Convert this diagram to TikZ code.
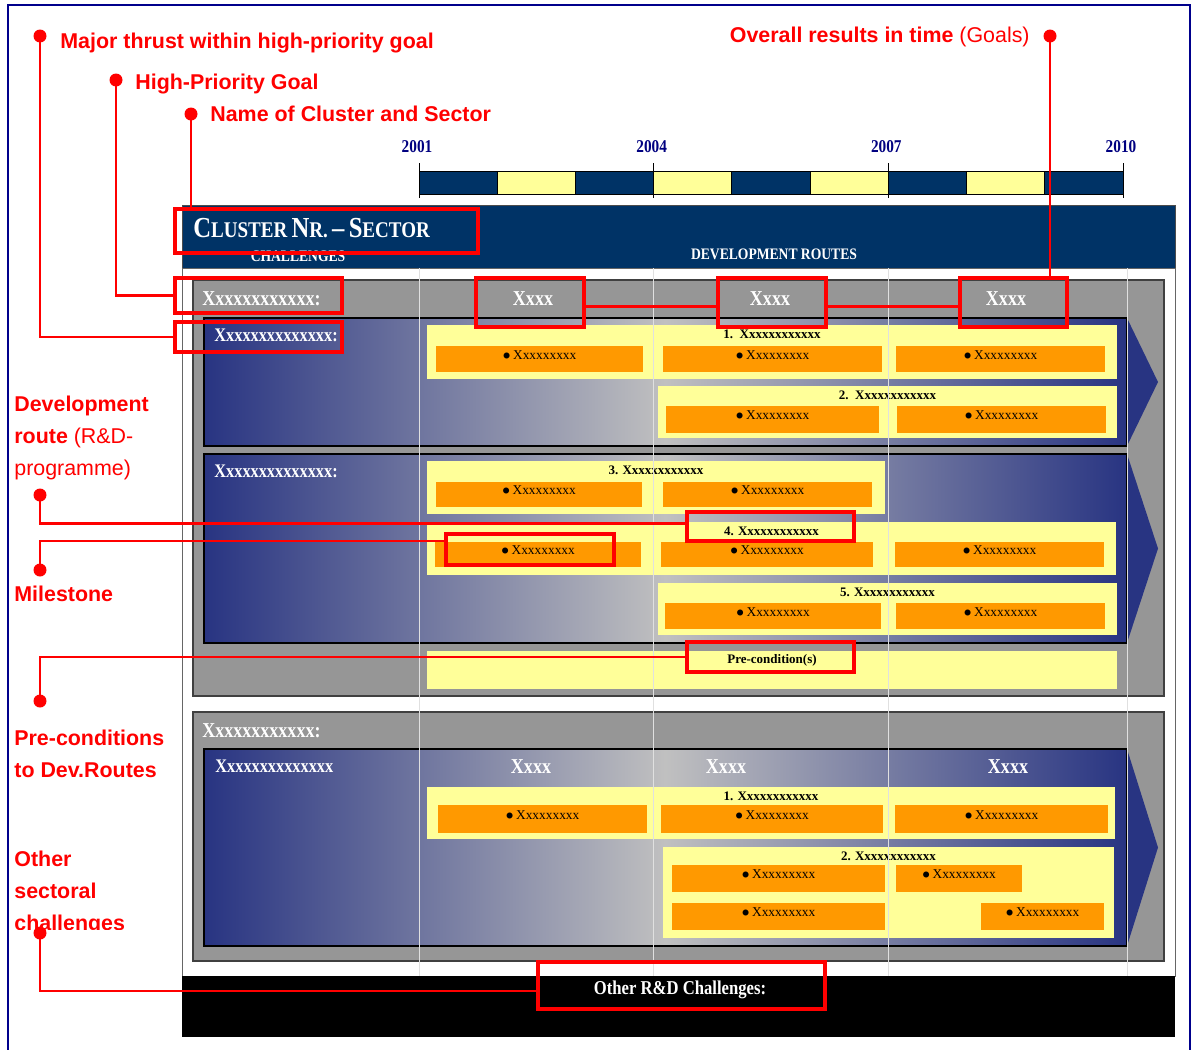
\documentclass[tikz,border=0pt]{standalone}
\usepackage{fontspec}
\setmainfont{Liberation Serif}
\newfontfamily\narrowserif{Liberation Serif}[FakeStretch=0.85]
\newfontfamily\arialfont{Liberation Sans}
\usetikzlibrary{positioning,fit}

\definecolor{framenavy}{RGB}{0,0,140}
\definecolor{clusternavy}{RGB}{0,51,102}
\definecolor{yearblue}{RGB}{0,0,128}
\definecolor{bandblue}{RGB}{40,52,130}
\definecolor{bandlight}{RGB}{192,192,192}
\definecolor{boxgray}{RGB}{150,150,150}
\definecolor{routeyellow}{RGB}{255,255,153}
\definecolor{taskorange}{RGB}{255,153,0}
\definecolor{calloutred}{RGB}{255,0,0}

% big first letter, smaller rest (fake small caps)
\newcommand\capsword[2]{{\fontsize{14.5}{16}\selectfont #1}{\fontsize{11.2}{14}\selectfont #2}}

\begin{document}
\begin{tikzpicture}[x=0.5pt, y=-0.5pt,
  route/.style={fill=routeyellow, inner sep=0pt},
  task/.style={fill=taskorange, inner sep=0pt, font=\fontsize{6.7}{8}\selectfont},
  routelbl/.style={inner sep=0pt, font=\bfseries\fontsize{6.5}{8}\selectfont},
  whitelbl/.style={text=white, inner sep=0pt, font=\narrowserif\bfseries\fontsize{10.6}{12}\selectfont},
  thrustlbl/.style={whitelbl, font=\narrowserif\bfseries\fontsize{9.6}{11}\selectfont},
  year/.style={text=yearblue, inner sep=0pt, anchor=base, font=\narrowserif\bfseries\fontsize{9}{10}\selectfont},
  redbox/.style={draw=calloutred, line width=1.6pt, inner sep=0pt},
  callout/.style={calloutred, line width=1.2pt},
  reddot/.style={circle, fill=calloutred, inner sep=0pt, minimum size=6.5pt},
  note/.style={text=calloutred, inner sep=0pt, font=\arialfont\bfseries\fontsize{10.7}{16}\selectfont}]

  \useasboundingbox (0,0) rectangle (1191,1050);
  \draw[framenavy, line width=1pt] (8,5) rectangle (1190,1070);

  % time line
  \foreach \i in {0,...,8}{
    \pgfmathsetmacro\xa{419+78.22*\i}
    \pgfmathsetmacro\xb{\xa+78.22}
    \ifodd\i \def\segcol{routeyellow}\else\def\segcol{clusternavy}\fi
    \filldraw[fill=\segcol, draw=black, line width=0.4pt] (\xa,171) rectangle (\xb,194);
  }
  \foreach \yr [count=\i from 0] in {2001,2004,2007,2010}{
    \pgfmathsetmacro\xt{419+234.67*\i}
    \draw[line width=0.4pt] (\xt,163) -- (\xt,198);
    \node[year] (year\yr) at (\xt-2,152) {\yr};
  }

  % header, panel, bottom bar
  \filldraw[fill=clusternavy, draw=black!70] (182,205) rectangle (1175,268);
  \filldraw[fill=white, draw=black!60] (182,268) rectangle (1175,976);
  \fill[black] (182,976) rectangle (1175,1037);

  \filldraw[fill=boxgray, draw=black!75, line width=0.6pt] (193,280) rectangle (1164,696);
  \filldraw[fill=boxgray, draw=black!75, line width=0.6pt] (193,712) rectangle (1164,961);

  \foreach \ya/\yb in {318/446, 454/643, 749/946}{
    \shadedraw[left color=bandblue, right color=bandblue, middle color=bandlight,
      draw=black, line width=0.6pt] (204,\ya) rectangle (1127,\yb);
    \fill[bandblue] (1127,\ya) -- (1158,{(\ya+\yb)/2}) -- (1127,\yb) -- cycle;
  }

  % development routes
  \foreach \xa/\ya/\xb/\yb/\txt [count=\i] in {
      427/325/1117/379/{1.~~Xxxxxxxxxxxx}, 658/386/1117/438/{2.~~Xxxxxxxxxxxx},
      427/461/885/514/{3. Xxxxxxxxxxxx}, 427/522/1116/575/{4. Xxxxxxxxxxxx},
      658/583/1117/635/{5. Xxxxxxxxxxxx}, 427/787/1115/839/{1. Xxxxxxxxxxxx},
      663/847/1114/938/{2. Xxxxxxxxxxxx}}{
    \node[route, fit={(\xa,\ya) (\xb,\yb)}] (route\i) {};
    \node[routelbl, below=2.5pt of route\i.north] (routelbl\i) {\txt};
  }
  \node[route, fit={(427,651) (1117,689)}] (condition) {};
  \node[routelbl, below=1.5pt of condition.north] (conditionlbl) {Pre-condition(s)};

  \foreach \xg in {419,653,888,1127}
    \draw[black!12, line width=0.5pt] (\xg,268) -- (\xg,976);

  \foreach \xa/\ya/\xb/\yb [count=\i] in {
      436/346/643/372, 663/346/882/372, 896/346/1105/372,
      666/406/879/433, 897/406/1106/433,
      436/482/642/507, 663/482/872/507,
      435/542/641/567, 661/542/873/567, 895/542/1104/567,
      665/603/881/629, 896/603/1105/629,
      438/805/647/833, 661/805/883/833, 895/805/1108/833,
      672/865/885/892, 896/865/1022/892, 672/903/885/930, 981/903/1104/930}
    \node[task, fit={(\xa,\ya) (\xb,\yb)}] (task\i) {$\bullet$\,Xxxxxxxxx};

  % texts in the chart
  \node[anchor=base west, inner sep=0pt, text=white, font=\narrowserif\bfseries] (clustertitle) at (193,237)
    {\capsword{C}{LUSTER} \capsword{N}{R.} {\fontsize{14.5}{16}\selectfont\textendash} \capsword{S}{ECTOR}};
  \node[whitelbl, anchor=base, font=\narrowserif\bfseries\fontsize{8}{9}\selectfont] (challenges) at (298,261) {CHALLENGES};
  \node[whitelbl, anchor=base, font=\narrowserif\bfseries\fontsize{8}{9}\selectfont] (devroutes) at (774,259) {DEVELOPMENT ROUTES};

  \node[whitelbl, anchor=base west] (priority1) at (202,305) {Xxxxxxxxxxxx:};
  \node[whitelbl, anchor=base west] (priority2) at (202,737) {Xxxxxxxxxxxx:};
  \node[thrustlbl, anchor=base west] (thrust1) at (214,341) {Xxxxxxxxxxxxxx:};
  \node[thrustlbl, anchor=base west] (thrust2) at (214,477) {Xxxxxxxxxxxxxx:};
  \node[thrustlbl, anchor=base west] (thrust3) at (215,772) {Xxxxxxxxxxxxxx};
  \foreach \xg [count=\i] in {533,770,1006}
    \node[whitelbl, anchor=base] (goal\i) at (\xg,305) {Xxxx};
  \foreach \xg [count=\i] in {531,726,1008}
    \node[whitelbl, anchor=base] (goallow\i) at (\xg,773) {Xxxx};
  \node[whitelbl, anchor=base, font=\narrowserif\bfseries\fontsize{9.8}{11}\selectfont] (otherrd) at (680,994) {Other R\&D Challenges:};

  % call-outs
  \node[redbox, fit={(175,209) (478,253)}] (namebox) {};
  \node[redbox, fit={(175,278) (342,313)}] (prioritybox) {};
  \node[redbox, fit={(175,322) (342,352)}] (thrustbox) {};
  \foreach \xa/\xb [count=\i] in {476/584, 718/826, 960/1067}
    \node[redbox, fit={(\xa,278) (\xb,327)}] (goalbox\i) {};
  \node[redbox, fit={(687,512) (854,541)}] (routebox) {};
  \node[redbox, fit={(446,534) (614,565)}] (milestonebox) {};
  \node[redbox, fit={(687,642) (854,672)}] (conditionbox) {};
  \node[redbox, fit={(538,962) (825,1009)}] (otherbox) {};

  \node[reddot] (thrustdot) at (40,36) {};
  \node[reddot] (prioritydot) at (116,80) {};
  \node[reddot] (namedot) at (191,114) {};
  \node[reddot] (resultdot) at (1050,36) {};
  \node[reddot] (routedot) at (40,495) {};
  \node[reddot] (milestonedot) at (40,570) {};
  \node[reddot] (conditiondot) at (40,701) {};

  \node[note, anchor=base west] (thrustnote) at (60,48) {Major thrust within high-priority goal};
  \node[note, anchor=base west] (prioritynote) at (135,89) {High-Priority Goal};
  \node[note, anchor=base west] (namenote) at (210,121) {Name of Cluster and Sector};
  \node[note, anchor=base east] (resultnote) at (1030,42) {Overall results in time {\mdseries (Goals)}};
  \node[note, anchor=north west, align=left] (routenote) at (14,396)
    {Development\\route {\mdseries (R\&D-}\\{\mdseries programme)}};
  \node[note, anchor=base west] (milestonenote) at (14,601) {Milestone};
  \node[note, anchor=north west, align=left] (conditionnote) at (14,730) {Pre-conditions\\to Dev.Routes};
  \begin{scope}
    \clip (0,840) rectangle (200,929);
    \node[note, anchor=north west, align=left] (othernote) at (14,851) {Other\\sectoral\\challenges};
  \end{scope}
  \node[reddot] (otherdot) at (40,933) {};

  \draw[callout] (thrustdot.center) |- (thrustbox.west);
  \draw[callout] (prioritydot.center) |- (prioritybox.west);
  \draw[callout] (namedot.center) -- (namedot |- namebox.north);
  \draw[callout] (resultdot.center) -- (resultdot |- goalbox3.north);
  \draw[callout] ([yshift=-2pt]goalbox1.east) -- ([yshift=-2pt]goalbox2.west);
  \draw[callout] ([yshift=-2pt]goalbox2.east) -- ([yshift=-2pt]goalbox3.west);
  \draw[callout] (routedot.center) |- ([yshift=1.5pt]routebox.west);
  \draw[callout] (milestonedot.center) |- ([yshift=4.25pt]milestonebox.west);
  \draw[callout] (conditiondot.center) |- (conditionbox.west);
  \draw[callout] (otherdot.center) |- ([yshift=-2.75pt]otherbox.west);
\end{tikzpicture}
\end{document}
